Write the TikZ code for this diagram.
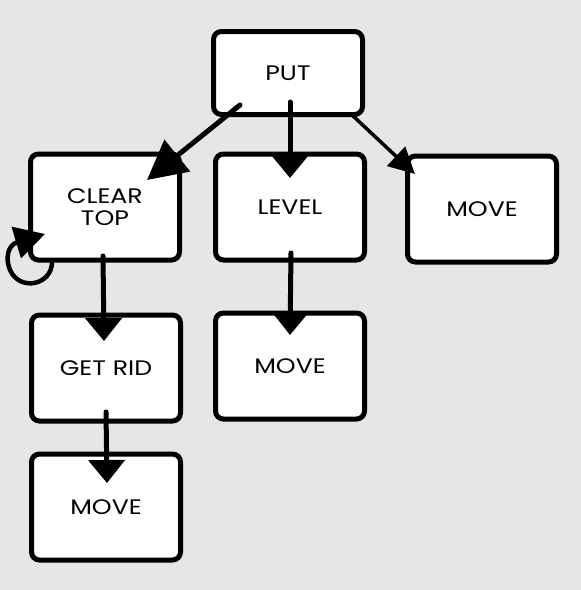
\documentclass[tikz,border=0pt]{standalone}
\usepackage{fontspec}
\setmainfont{Poppins}[FakeStretch=1.2]
\usetikzlibrary{positioning, calc, arrows.meta}
\tikzset{>=latex}
\definecolor{canvas}{HTML}{E6E6E6}

\begin{document}
\begin{tikzpicture}
    [
        x=1pt, y=-1pt,
        task_node/.style={rectangle, draw=black, fill=white, line width=5pt, rounded corners=8pt, minimum width=149pt, minimum height=106pt, align=center, font=\fontsize{21}{22}\selectfont},
        big_arrow/.style={line width=5pt, line cap=round, -{Triangle[length=23pt, width=36pt]}},
        thin_arrow/.style={line width=3.5pt, line cap=round, -{Triangle[length=26pt, width=26pt]}},
    ]

  \fill[canvas] (0,0) rectangle (581,590);
  \useasboundingbox (0,0) rectangle (581,590);

  \node[task_node, minimum height=83pt] (put) at (288,73) {PUT};
  \node[task_node] (clear) at (105,207) {CLEAR\\TOP};
  \node[task_node] (level) at (290,207) {LEVEL};
  \node[task_node] (move_r) at (482,209) {MOVE};
  \node[task_node] (getrid) at (106,368) {GET RID};
  \node[task_node] (move_m) at (290,366) {MOVE};
  \node[task_node] (move_b) at (106,507) {MOVE};

  % loose ends of the strokes
  \coordinate (put_l) at ($(put)+(-48,32)$);
  \coordinate (put_c) at ($(put)+(2,29)$);
  \coordinate (put_r) at ($(put)+(64,42)$);
  \coordinate (clear_tip) at ($(clear)+(42,-27)$);
  \coordinate (level_tip) at ($(level)+(0,-29)$);
  \coordinate (move_tip) at ($(move_r)+(-67,-35)$);
  \coordinate (loop_out) at ($(clear)+(-53,55)$);
  \coordinate (loop_low) at ($(clear)+(-95,63)$);
  \coordinate (loop_in) at ($(clear)+(-60,27)$);
  \coordinate (clear_s) at ($(clear)+(-2,49)$);
  \coordinate (getrid_tip) at ($(getrid)+(-2,-27)$);
  \coordinate (level_s) at ($(level)+(1,46)$);
  \coordinate (move_m_tip) at ($(move_m)+(0,-31)$);
  \coordinate (getrid_s) at ($(getrid)+(0,44)$);
  \coordinate (move_b_tip) at ($(move_b)+(1,-24)$);

  \draw[big_arrow, -{Triangle[length=39pt, width=40pt]}] (put_l) -- (clear_tip);
  \draw[big_arrow, -{Triangle[length=25pt, width=40pt]}] (put_c) -- (level_tip);
  \draw[thin_arrow] (put_r) -- (move_tip);
  \draw[thin_arrow, line width=4.5pt, -{Triangle[length=30pt, width=32pt]}] (loop_out)
      .. controls ($(clear)+(-53,78)$) and ($(clear)+(-85,85)$) .. (loop_low)
      .. controls ($(clear)+(-100,51)$) and ($(clear)+(-97,38)$) .. (loop_in);
  \draw[big_arrow] (clear_s) -- (getrid_tip);
  \draw[big_arrow] (level_s) -- (move_m_tip);
  \draw[big_arrow] (getrid_s) -- (move_b_tip);
\end{tikzpicture}
\end{document}
